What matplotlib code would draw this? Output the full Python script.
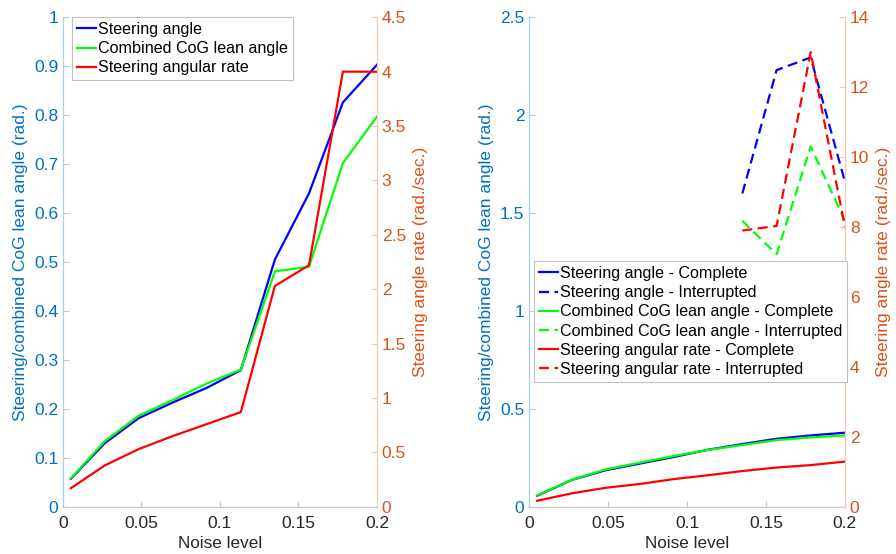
import matplotlib
matplotlib.use('Agg')
import matplotlib.pyplot as plt
from matplotlib.ticker import FuncFormatter

plt.rcParams['font.family'] = ['Liberation Sans', 'DejaVu Sans']
plt.rcParams['font.size'] = 12

# noise levels
noise = [0.005, 0.0267, 0.0483, 0.07, 0.0917, 0.1133, 0.135, 0.1567, 0.1783, 0.2]

# left chart
steer = [0.057, 0.130, 0.181, 0.213, 0.243, 0.279, 0.505, 0.640, 0.826, 0.903]
cog = [0.058, 0.134, 0.186, 0.218, 0.252, 0.280, 0.481, 0.490, 0.702, 0.797]
rate = [0.17, 0.38, 0.53, 0.65, 0.76, 0.87, 2.03, 2.22, 4.0, 4.0]

# right chart - complete runs
steer_c = [0.056, 0.136, 0.186, 0.220, 0.254, 0.291, 0.320, 0.347, 0.364, 0.378]
cog_c = [0.058, 0.137, 0.190, 0.225, 0.259, 0.290, 0.315, 0.340, 0.354, 0.364]
rate_c = [0.17, 0.38, 0.54, 0.65, 0.79, 0.90, 1.02, 1.12, 1.19, 1.29]

# right chart - interrupted runs
noise_i = [0.135, 0.1567, 0.1783, 0.2]
steer_i = [1.60, 2.23, 2.295, 1.66]
cog_i = [1.46, 1.29, 1.84, 1.46]
rate_i = [7.9, 8.03, 13.0, 8.0]

BLUE_AX = '#0072BD'
ORANGE_AX = '#D95319'
BLUE_SP = '#a9d0ec'
ORANGE_SP = '#f4c8b3'
GRAY = '#262626'

fmt = FuncFormatter(lambda v, p: '%g' % round(v, 3))


def style_axes(ax, ax2, ylim, yticks, ylim2, yticks2):
    ax.set_xlim(0, 0.2)
    ax.set_xticks([0, 0.05, 0.1, 0.15, 0.2])
    ax.xaxis.set_major_formatter(fmt)
    ax.set_ylim(*ylim)
    ax.set_yticks(yticks)
    ax.yaxis.set_major_formatter(fmt)
    ax2.set_ylim(*ylim2)
    ax2.set_yticks(yticks2)
    ax2.yaxis.set_major_formatter(fmt)
    for a in (ax, ax2):
        a.spines['top'].set_visible(False)
        a.spines['left'].set_color(BLUE_SP)
        a.spines['right'].set_color(ORANGE_SP)
        a.spines['bottom'].set_color('#c8c8c8')
    ax.tick_params(axis='x', direction='in', length=4, pad=7, colors='#c8c8c8', labelcolor=GRAY, labelsize=12.5)
    ax.tick_params(axis='y', direction='in', length=4, colors=BLUE_SP, labelcolor=BLUE_AX, labelsize=12.5)
    ax2.tick_params(axis='y', direction='in', length=4, colors=ORANGE_SP, labelcolor=ORANGE_AX, labelsize=12.5)
    ax.set_xlabel('Noise level', color=GRAY, fontsize=12.3, labelpad=3)
    ax.set_ylabel('Steering/combined CoG lean angle (rad.)', color=BLUE_AX, fontsize=12.5, labelpad=4)
    ax2.set_ylabel('Steering angle rate (rad./sec.)', color=ORANGE_AX, fontsize=12.5, labelpad=5)


def add_legend(ax, handles, anchor, loc):
    leg = ax.legend(handles=handles, loc=loc, bbox_to_anchor=anchor,
                    fancybox=False, edgecolor='#bfbfbf', framealpha=1,
                    handlelength=1.2, handletextpad=0.12, borderpad=0.3, labelspacing=0.26,
                    borderaxespad=0, fontsize=11.6)
    leg.get_frame().set_linewidth(0.8)
    return leg


fig = plt.figure(figsize=(8.96, 5.54), dpi=100)

# left chart
ax1 = fig.add_axes([0.0703, 0.0854, 0.3504, 0.8834])
ax1b = ax1.twinx()
l1, = ax1.plot(noise, steer, color='#0000ff', lw=1.6, label='Steering angle')
l2, = ax1.plot(noise, cog, color='#00ff00', lw=1.6, label='Combined CoG lean angle')
l3, = ax1b.plot(noise, rate, color='#ff0000', lw=1.6, label='Steering angular rate')
style_axes(ax1, ax1b, (0, 1), [i / 10 for i in range(11)], (0, 4.5), [i / 2 for i in range(10)])
add_legend(ax1b, [l1, l2, l3], (0.028, 1.0), 'upper left')

# right chart
ax2 = fig.add_axes([0.5907, 0.0854, 0.3523, 0.8834])
ax2b = ax2.twinx()
dash = (4.5, 2.5)
h1, = ax2.plot(noise, steer_c, color='#0000ff', lw=1.6, label='Steering angle - Complete')
h2, = ax2.plot(noise_i, steer_i, color='#0000ff', lw=1.6, dashes=dash, label='Steering angle - Interrupted')
h3, = ax2.plot(noise, cog_c, color='#00ff00', lw=1.6, label='Combined CoG lean angle - Complete')
h4, = ax2.plot(noise_i, cog_i, color='#00ff00', lw=1.6, dashes=dash, label='Combined CoG lean angle - Interrupted')
h5, = ax2b.plot(noise, rate_c, color='#ff0000', lw=1.6, label='Steering angular rate - Complete')
h6, = ax2b.plot(noise_i, rate_i, color='#ff0000', lw=1.6, dashes=dash, label='Steering angular rate - Interrupted')
style_axes(ax2, ax2b, (0, 2.5), [0, 0.5, 1, 1.5, 2, 2.5], (0, 14), list(range(0, 15, 2)))
add_legend(ax2b, [h1, h2, h3, h4, h5, h6], (0.015, 0.255), 'lower left')

fig.savefig('out.png', dpi=100)
